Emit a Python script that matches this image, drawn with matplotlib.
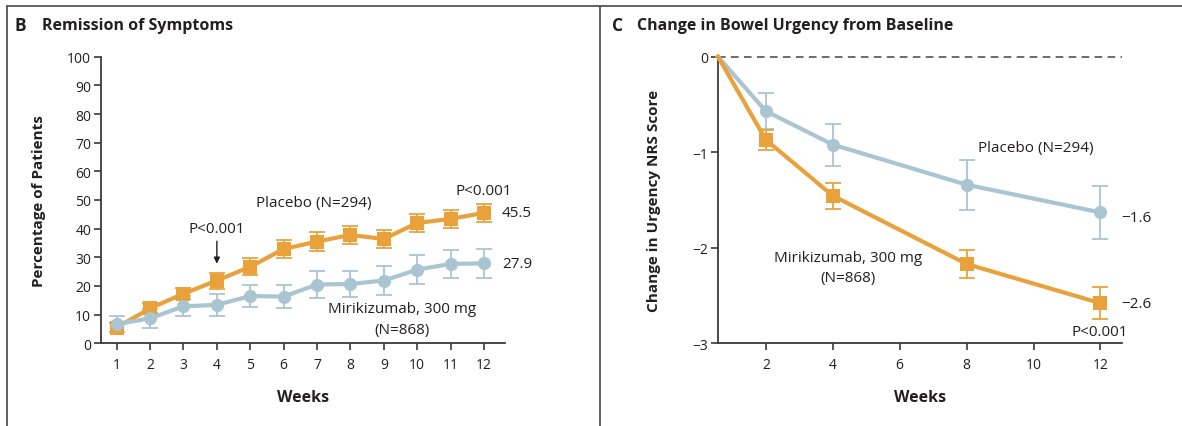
import matplotlib
matplotlib.use("Agg")
import matplotlib.pyplot as plt
from matplotlib.lines import Line2D

plt.rcParams['font.family'] = ['Open Sans', 'DejaVu Sans']

# ---- Panel B data: Remission of Symptoms ----
weeks_b = [1, 2, 3, 4, 5, 6, 7, 8, 9, 10, 11, 12]
orange_b = [5.5, 12.2, 17.3, 21.9, 26.7, 32.9, 35.5, 37.8, 36.4, 42.0, 43.4, 45.5]
orange_b_err = [1.5, 1.8, 2.0, 2.8, 3.0, 3.2, 3.2, 3.2, 3.2, 3.2, 3.1, 3.2]
blue_b = [6.7, 8.7, 12.9, 13.4, 16.5, 16.3, 20.5, 20.7, 21.9, 25.7, 27.7, 27.9]
blue_b_err = [2.9, 3.3, 3.5, 3.9, 4.0, 4.0, 4.6, 4.6, 4.9, 5.0, 5.0, 5.0]
xticks_b = [1, 2, 3, 4, 5, 6, 7, 8, 9, 10, 11, 12]
yticks_b = [0, 10, 20, 30, 40, 50, 60, 70, 80, 90, 100]

# ---- Panel C data: Change in Bowel Urgency ----
weeks_c = [0.57, 2, 4, 8, 12]
blue_c = [0.0, -0.57, -0.92, -1.34, -1.63]
blue_c_err = [0.0, 0.19, 0.22, 0.26, 0.275]
orange_c = [0.0, -0.87, -1.455, -2.17, -2.58]
orange_c_err = [0.0, 0.105, 0.135, 0.15, 0.165]
xticks_c = [2, 4, 6, 8, 10, 12]
yticks_c = [0, -1, -2, -3]

ORANGE = '#E9A23B'
BLUE = '#A9C5D1'
AX = '#3a3a3a'
TXT = '#231f20'
FS_ANN = 11
FS_TICK = 10

fig = plt.figure(figsize=(11.82, 4.27), dpi=100)

# frame lines
W, H = 1182, 427
def fx(px): return px / W
def fy(py): return 1 - py / H
fig.add_artist(Line2D([fx(7), 1], [fy(7), fy(7)], color='#555555', lw=1.3))
fig.add_artist(Line2D([fx(7), fx(7)], [fy(7), 0], color='#555555', lw=1.3))
fig.add_artist(Line2D([fx(600), fx(600)], [fy(7), 0], color='#555555', lw=1.3))

def style_axes(ax):
    for s in ['top', 'right']:
        ax.spines[s].set_visible(False)
    for s in ['left', 'bottom']:
        ax.spines[s].set_color(AX)
        ax.spines[s].set_linewidth(1.3)
    ax.tick_params(axis='both', direction='out', length=5, width=1.2, color=AX,
                   labelsize=FS_TICK, labelcolor=TXT)
    ax.tick_params(axis='x', pad=5)
    ax.tick_params(axis='y', pad=2)

def draw_series(ax, x, y, err, color, marker, ms, skip_first=False):
    xs, ys, es = (x[1:], y[1:], err[1:]) if skip_first else (x, y, err)
    ax.errorbar(xs, ys, yerr=es, fmt='none', ecolor=color, elinewidth=1.3,
                capsize=6, capthick=1.3, zorder=3, clip_on=False)
    ax.plot(x, y, color=color, lw=3, zorder=4, clip_on=False)
    ax.plot(xs, ys, linestyle='none', marker=marker, ms=ms, color=color,
            markeredgewidth=0, zorder=5, clip_on=False)

# ---------------- Panel B ----------------
axb = fig.add_axes([fx(101), fy(344.3), fx(505) - fx(101), fy(57.7) - fy(344.3)])
style_axes(axb)
axb.set_xlim(0.53, 12.63)
axb.set_ylim(0, 100)
axb.set_xticks(xticks_b)
axb.set_yticks(yticks_b)
draw_series(axb, weeks_b, orange_b, orange_b_err, ORANGE, 's', 10)
draw_series(axb, weeks_b, blue_b, blue_b_err, BLUE, 'o', 9.5)
axb.set_xlabel('Weeks', fontsize=11.5, fontweight='bold', color=TXT, labelpad=12)
axb.set_ylabel('Percentage of Patients', fontsize=11, fontweight='bold', color=TXT, labelpad=15)

axb.text(4, 39.9, 'P<0.001', ha='center', va='center', fontsize=FS_ANN, color=TXT)
axb.annotate('', xy=(4, 26.8), xytext=(4, 36.6),
             arrowprops=dict(arrowstyle='-|>', color=TXT, lw=1, mutation_scale=9))
axb.text(6.9, 49.2, 'Placebo (N=294)', ha='center', va='center', fontsize=FS_ANN, color=TXT)
axb.text(12, 53.3, 'P<0.001', ha='center', va='center', fontsize=FS_ANN, color=TXT)
axb.text(12.54, 45.5, '45.5', ha='left', va='center', fontsize=FS_ANN, color=TXT)
axb.text(12.54, 27.9, '27.9', ha='left', va='center', fontsize=FS_ANN, color=TXT)
axb.text(9.54, 12.0, 'Mirikizumab, 300 mg', ha='center', va='center', fontsize=FS_ANN, color=TXT)
axb.text(9.54, 4.7, '(N=868)', ha='center', va='center', fontsize=FS_ANN, color=TXT)

fig.text(fx(15), fy(26), 'B', fontsize=12.5, fontweight='bold', color=TXT, va='center', ha='left')
fig.text(fx(42), fy(26), 'Remission of Symptoms', fontsize=11.5, fontweight='bold', color=TXT,
         va='center', ha='left')

# ---------------- Panel C ----------------
axc = fig.add_axes([fx(718), fy(344.3), fx(1121.5) - fx(718), fy(57.7) - fy(344.3)])
style_axes(axc)
axc.set_xlim(0.57, 12.63)
axc.set_ylim(-3, 0)
axc.set_xticks(xticks_c)
axc.set_yticks(yticks_c)
axc.axhline(0, color='#444444', lw=1.1, linestyle=(0, (5, 3.5)), zorder=1, clip_on=False)
draw_series(axc, weeks_c, blue_c, blue_c_err, BLUE, 'o', 9.5, skip_first=True)
draw_series(axc, weeks_c, orange_c, orange_c_err, ORANGE, 's', 10, skip_first=True)
axc.set_xlabel('Weeks', fontsize=11.5, fontweight='bold', color=TXT, labelpad=12)
axc.set_ylabel('Change in Urgency NRS Score', fontsize=11, fontweight='bold', color=TXT, labelpad=22.5)

axc.text(10.07, -0.955, 'Placebo (N=294)', ha='center', va='center', fontsize=FS_ANN, color=TXT)
axc.text(12.63, -1.68, '\u22121.6', ha='left', va='center', fontsize=FS_ANN, color=TXT)
axc.text(12.63, -2.58, '\u22122.6', ha='left', va='center', fontsize=FS_ANN, color=TXT)
axc.text(11.97, -2.88, 'P<0.001', ha='center', va='center', fontsize=FS_ANN, color=TXT)
axc.text(4.46, -2.1, 'Mirikizumab, 300 mg', ha='center', va='center', fontsize=FS_ANN, color=TXT)
axc.text(4.46, -2.31, '(N=868)', ha='center', va='center', fontsize=FS_ANN, color=TXT)

fig.text(fx(612), fy(26), 'C', fontsize=12.5, fontweight='bold', color=TXT, va='center', ha='left')
fig.text(fx(637), fy(26), 'Change in Bowel Urgency from Baseline', fontsize=11.5, fontweight='bold',
         color=TXT, va='center', ha='left')

fig.savefig('out.png', dpi=100, facecolor='white')
